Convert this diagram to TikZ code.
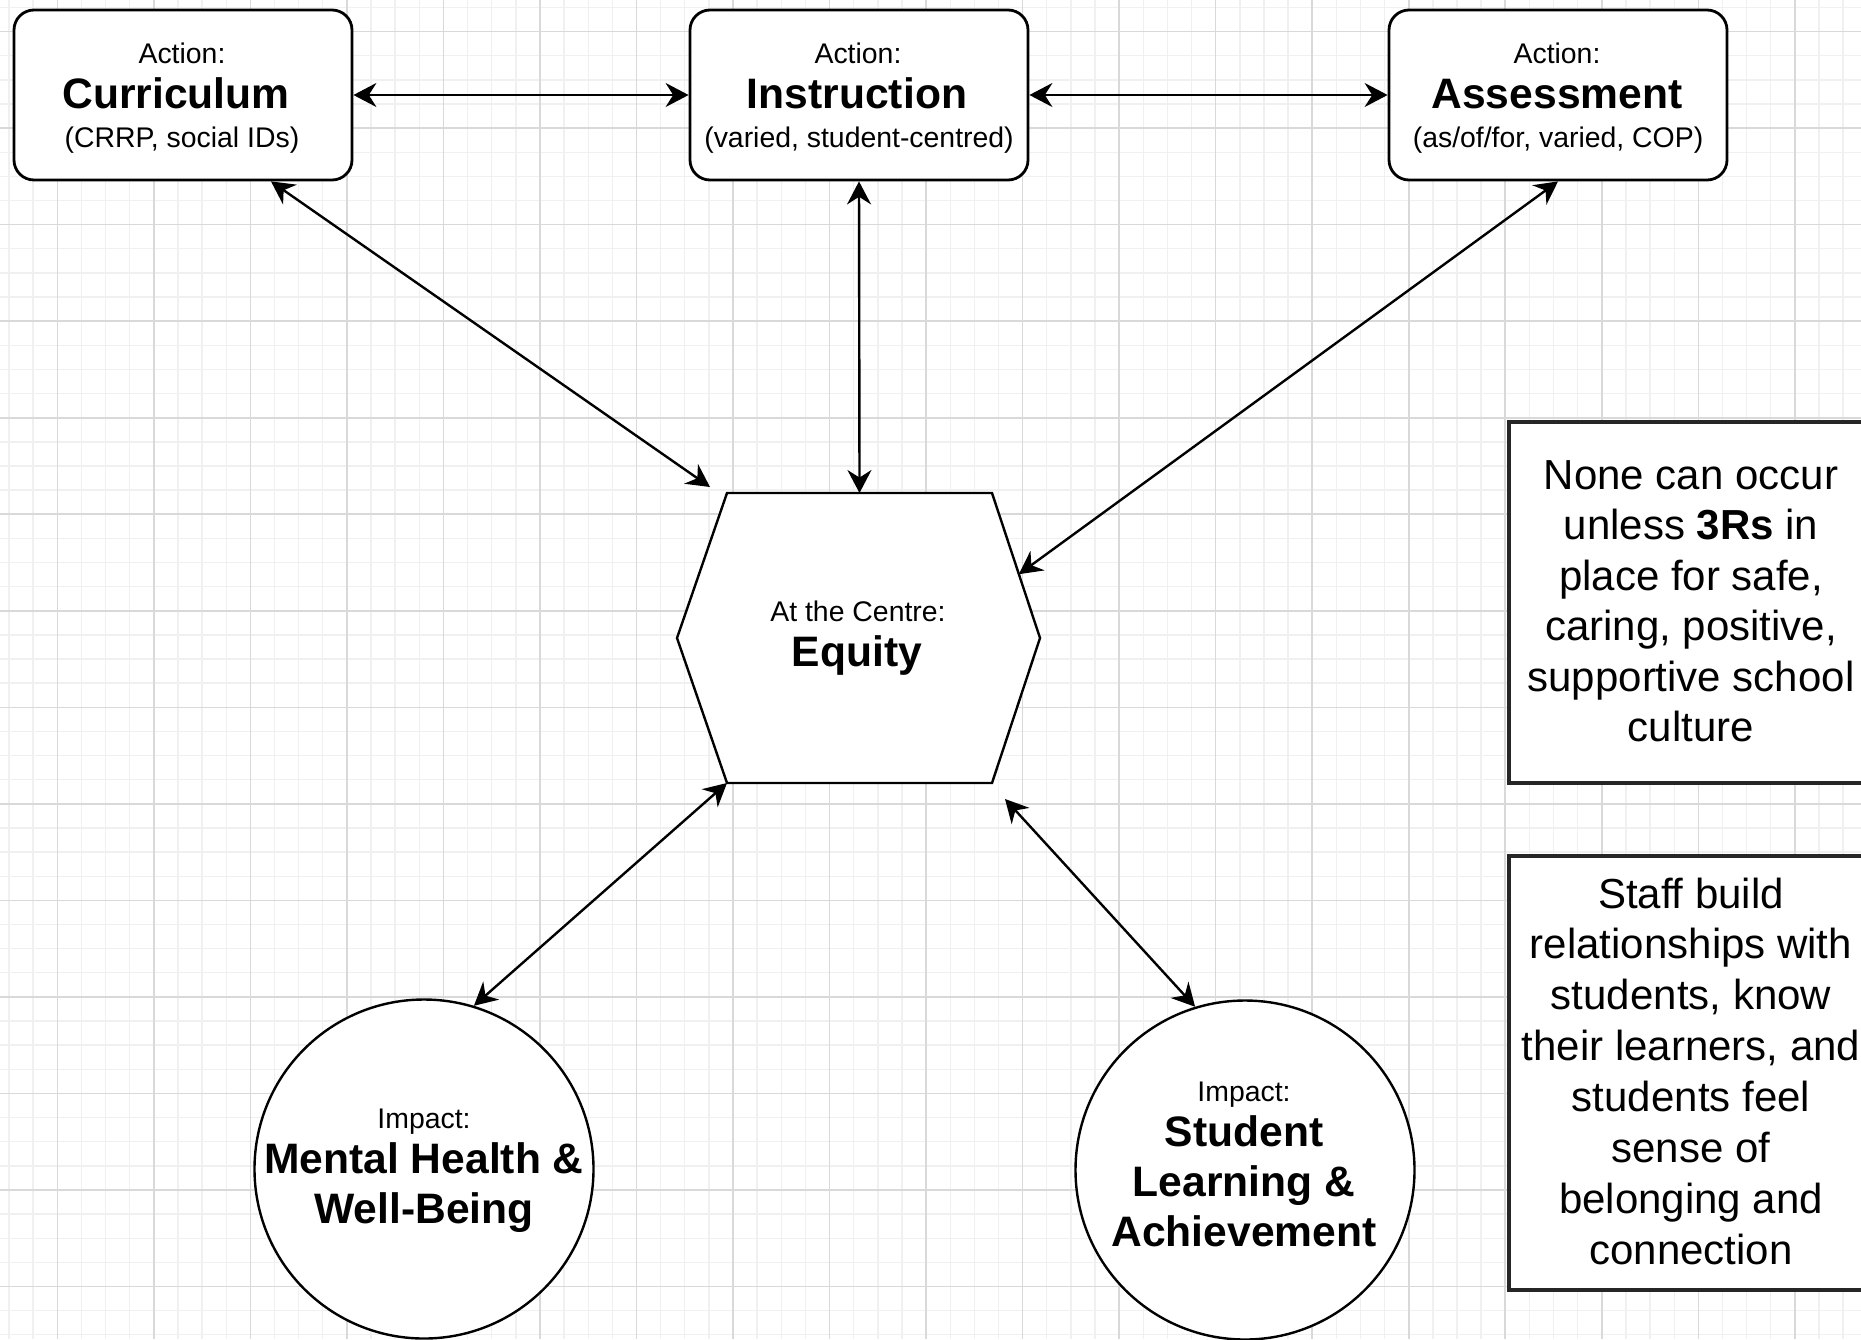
\documentclass[tikz,border=0pt]{standalone}
\usepackage{fontspec}
\setmainfont{Liberation Sans}
\usetikzlibrary{arrows.meta,calc}
\begin{document}
\begin{tikzpicture}[x=0.5pt,y=-0.5pt,
  gridminor/.style={draw=black!6, line width=0.7pt},
  gridmajor/.style={draw=black!15, line width=0.8pt},
  actbox/.style={draw=black, line width=1.4pt, rounded corners=10pt, fill=white,
    minimum width=169pt, minimum height=85pt, inner sep=0pt},
  impact/.style={draw=black, line width=1.2pt, circle, fill=white, minimum size=169.5pt, inner sep=0pt},
  notebox/.style={draw=black!85, line width=1.7pt, fill=white, minimum width=182pt, inner sep=0pt},
  hexline/.style={draw=black, line width=1.2pt, fill=white},
  smalltxt/.style={font=\fontsize{14.2}{17}\selectfont, inner sep=0pt, anchor=base},
  bigtxt/.style={font=\fontsize{21.3}{25.5}\selectfont\bfseries, inner sep=0pt, anchor=base},
  notetxt/.style={font=\fontsize{21}{25.2}\selectfont, inner sep=0pt, anchor=base},
  conn/.style={<->, >={Stealth[length=11.5pt,width=12pt,inset=3.8pt]}, line width=1.2pt}
]
\useasboundingbox (0,0) rectangle (1861,1339);
\clip (0,0) rectangle (1861,1339);
\fill[white] (0,0) rectangle (1861,1339);
% grid
\foreach \j in {-2,...,74} {\draw[gridminor] (57.3+\j*24.1325,0) -- (57.3+\j*24.1325,1339);}
\foreach \j in {-1,...,54} {\draw[gridminor] (0,31.6+\j*24.1325) -- (1861,31.6+\j*24.1325);}
\foreach \k in {0,...,18} {\draw[gridmajor] (57.3+\k*96.53,0) -- (57.3+\k*96.53,1339);}
\foreach \k in {0,...,13} {\draw[gridmajor] (0,31.6+\k*96.53) -- (1861,31.6+\k*96.53);}

% action boxes
\node[actbox] (cur) at (183,95) {};
\node[actbox] (ins) at (859,95) {};
\node[actbox] (ass) at (1558,95) {};

\node[smalltxt] (curA) at (182,63) {Action:};
\node[bigtxt]   (curT) at (176,108) {Curriculum};
\node[smalltxt] (curS) at (182,147) {(CRRP, social IDs)};

\node[smalltxt] (insA) at (858,63) {Action:};
\node[bigtxt]   (insT) at (857,108) {Instruction};
\node[smalltxt] (insS) at (859,147) {(varied, student-centred)};

\node[smalltxt] (assA) at (1557,63) {Action:};
\node[bigtxt]   (assT) at (1557,108) {Assessment};
\node[smalltxt] (assS) at (1558,147) {(as/of/for, varied, COP)};

% hexagon
\coordinate (h1) at (727,493);
\coordinate (h2) at (992,493);
\coordinate (h3) at (1040,638);
\coordinate (h4) at (992,783);
\coordinate (h5) at (727,783);
\coordinate (h6) at (677,638);
\draw[hexline] (h1) -- (h2) -- (h3) -- (h4) -- (h5) -- (h6) -- cycle;
\coordinate (htop) at ($(h1)!0.5!(h2)$);
\coordinate (hcur) at (710,487);
\coordinate (hass) at ($(h2)!0.56!(h3)$);
\coordinate (hsla) at (1005,799);
\node[smalltxt] (eqA) at (858,621) {At the Centre:};
\node[bigtxt]   (eqT) at (857,666) {Equity};

% impact circles
\node[impact] (mh) at (424,1169) {};
\node[impact] (sla) at (1245,1170) {};
\node[smalltxt] (mhA) at (424,1128) {Impact:};
\node[bigtxt]   (mhT1) at (424,1173) {Mental Health \&};
\node[bigtxt]   (mhT2) at (424,1223) {Well-Being};
\node[smalltxt] (slaA) at (1244,1101) {Impact:};
\node[bigtxt]   (slaT1) at (1244,1146) {Student};
\node[bigtxt]   (slaT2) at (1244,1196) {Learning \&};
\node[bigtxt]   (slaT3) at (1244,1246) {Achievement};

% note boxes
\node[notebox, minimum height=180.5pt] (nb1) at (1691,602.5) {};
\node[notebox, minimum height=217pt] (nb2) at (1691,1073) {};
\node[notetxt] (nb1l1) at (1691,489) {None can occur};
\node[notetxt] (nb1l2) at (1691,539.5) {unless \textbf{3Rs} in};
\node[notetxt] (nb1l3) at (1691,590) {place for safe,};
\node[notetxt] (nb1l4) at (1691,640.5) {caring, positive,};
\node[notetxt] (nb1l5) at (1691,691) {supportive school};
\node[notetxt] (nb1l6) at (1691,741.5) {culture};

\node[notetxt] (nb2l1) at (1691,908) {Staff build};
\node[notetxt] (nb2l2) at (1691,958.9) {relationships with};
\node[notetxt] (nb2l3) at (1691,1009.8) {students, know};
\node[notetxt] (nb2l4) at (1691,1060.7) {their learners, and};
\node[notetxt] (nb2l5) at (1691,1111.6) {students feel};
\node[notetxt] (nb2l6) at (1691,1162.5) {sense of};
\node[notetxt] (nb2l7) at (1691,1213.4) {belonging and};
\node[notetxt] (nb2l8) at (1691,1264.3) {connection};

% connectors
\draw[conn] (cur.east) -- (ins.west);
\draw[conn] (ins.east) -- (ass.west);
\draw[conn] ($(cur.south)+(88,0)$) -- (hcur);
\draw[conn] (ins.south) -- (htop);
\draw[conn] (ass.south) -- (hass);
\draw[conn] (h5) -- (mh.73);
\draw[conn] (hsla) -- (sla.107.6);
\end{tikzpicture}
\end{document}
